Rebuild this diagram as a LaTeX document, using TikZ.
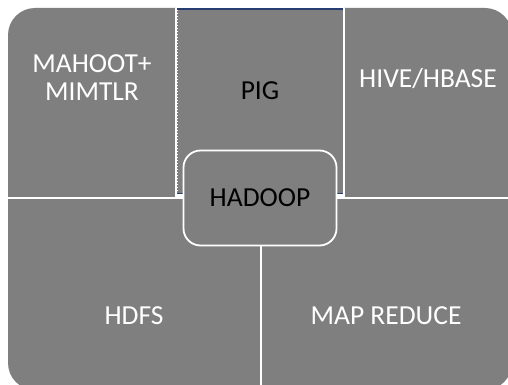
\documentclass[tikz,border=0pt]{standalone}
\usepackage{fontspec}
\setmainfont{Carlito}
\usetikzlibrary{positioning}
\definecolor{panelgray}{RGB}{127,127,127}
\definecolor{edgeblue}{RGB}{40,62,115}

\begin{document}
\begin{tikzpicture}[
						x=1pt,
						y=-1pt,
						panel/.style={fill=panelgray, draw=white, line width=1.6pt},
						label/.style={inner sep=0pt, align=center, font=\fontsize{27.5}{28}\selectfont},
						lighttext/.style={label, text=white},
						darktext/.style={label, text=black},
						hub/.style={fill=panelgray, draw=white, line width=1.8pt, rounded corners=17pt,
							minimum width=153pt, minimum height=95pt, inner sep=0pt}
					]
					\useasboundingbox[fill=white] (0,0) rectangle (508,385);
					\begin{scope}
						\clip[rounded corners=27pt] (8,8) rectangle (512,390);
						\filldraw[panel] (0,0) rectangle (176,198);
						\filldraw[panel] (344,0) rectangle (520,198);
						\filldraw[panel] (0,198) rectangle (261,400);
						\filldraw[panel] (261,198) rectangle (520,400);
					\end{scope}
					\fill[panelgray] (177,8) rectangle (343,194);
					\draw[white, line width=1pt, dotted] (177,10) -- (177,192);
					\draw[white, line width=1pt, dotted] (343,10) -- (343,192);
					\draw[edgeblue, line width=2.4pt] (177,9) -- (343,9);
					\draw[edgeblue, line width=1.2pt] (177,193.5) -- (343,193.5);
					\node[hub] (hadoop) at (260,198) {};
					\node[darktext] (hadooplabel) at (hadoop) {HADOOP};
					\node[lighttext] (mahoot) at (92,78) {MAHOOT+\\MIMTLR};
					\node[darktext] (pig) at (260,91) {PIG};
					\node[lighttext] (hive) at (428,79) {HIVE/HBASE};
					\node[lighttext] (hdfs) at (134,316) {HDFS};
					\node[lighttext] (mapreduce) at (386,316) {MAP REDUCE};
				\end{tikzpicture}
\end{document}
